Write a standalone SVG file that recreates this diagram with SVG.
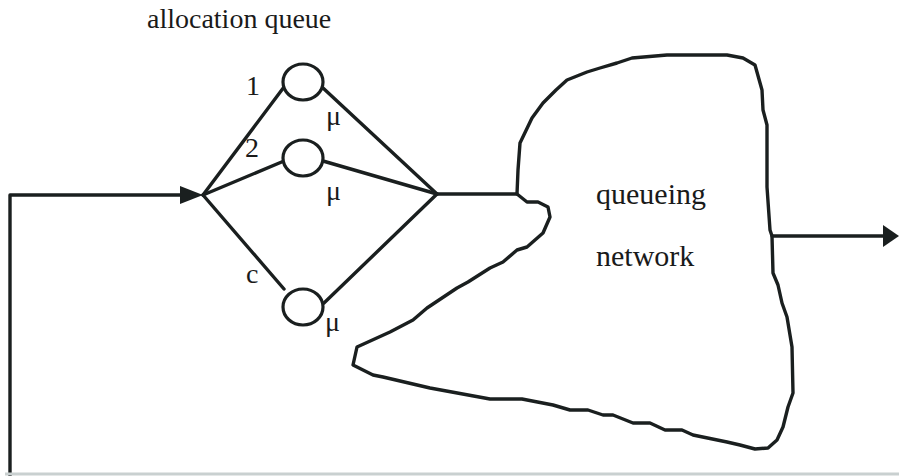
<svg xmlns="http://www.w3.org/2000/svg" width="899" height="476" viewBox="0 0 899 476">
<style>
.ln{fill:none;stroke:#1a1f1f;stroke-width:3.4;stroke-linejoin:round;stroke-linecap:round}
.srv{fill:#fff;stroke:#1a1f1f;stroke-width:3.2}
.t{font-family:"Liberation Serif","Times New Roman",serif;font-size:28px;fill:#1a1a1a}
.big{font-size:30px}
.ah{fill:#1a1f1f}
</style>
<rect width="899" height="476" fill="#fff"/>
<g id="connectors">
<path class="ln" d="M10,476 L10,195 L185,195"/>
<polygon class="ah" points="180,186 203,195 180,204"/>
<path class="ln" d="M203,195 L284,87"/>
<path class="ln" d="M203,195 L284,161"/>
<path class="ln" d="M203,195 L284,289"/>
<path class="ln" d="M323,88 L437,194"/>
<path class="ln" d="M323,161 L437,194"/>
<path class="ln" d="M324,303 L437,194"/>
<path class="ln" d="M437,194 L517,194"/>
<path class="ln" d="M772,236 L885,236"/>
<polygon class="ah" points="883,225 899,236 883,247"/>
<path d="M5,474 L899,474" fill="none" stroke="#c9d0d0" stroke-width="3"/>
</g>
<g id="server1"><ellipse class="srv" cx="303" cy="82" rx="20" ry="18"/></g>
<g id="server2"><ellipse class="srv" cx="303" cy="158" rx="20" ry="18"/></g>
<g id="serverc"><ellipse class="srv" cx="303" cy="307" rx="20" ry="18"/></g>
<g id="network">
<path class="ln" d="M517,194 L518,170 L520,143 L532,118 L543,103 L556,90 L567,80 L587,72 L600,68 L617,63 L632,58 L667,55 L727,55 L743,58 L755,65 L762,90 L763,110 L767,125 L767,187 L770,230 L772,236 L773,273 L778,285 L782,303 L787,317 L792,347 L793,393 L788,407 L783,427 L777,440 L768,448 L755,449 L740,445 L727,442 L693,435 L682,430 L665,430 L650,423 L633,423 L613,415 L603,415 L588,410 L570,410 L553,405 L522,399 L490,399 L430,388 L383,377 L373,375 L353,365 L357,347 L390,332 L413,320 L427,308 L457,288 L468,282 L490,268 L503,262 L517,250 L527,247 L543,233 L550,217 L548,207 L538,202 L527,202 Z"/>
<text class="t big" x="596" y="204">queueing</text>
<text class="t big" x="596" y="266">network</text>
</g>
<g id="labels">
<text class="t" x="147" y="28">allocation queue</text>
<text class="t" x="246" y="95">1</text>
<text class="t" x="245" y="157">2</text>
<text class="t" x="246" y="283">c</text>
<text class="t" x="326" y="125">μ</text>
<text class="t" x="326" y="200">μ</text>
<text class="t" x="325" y="331">μ</text>
</g>
</svg>
